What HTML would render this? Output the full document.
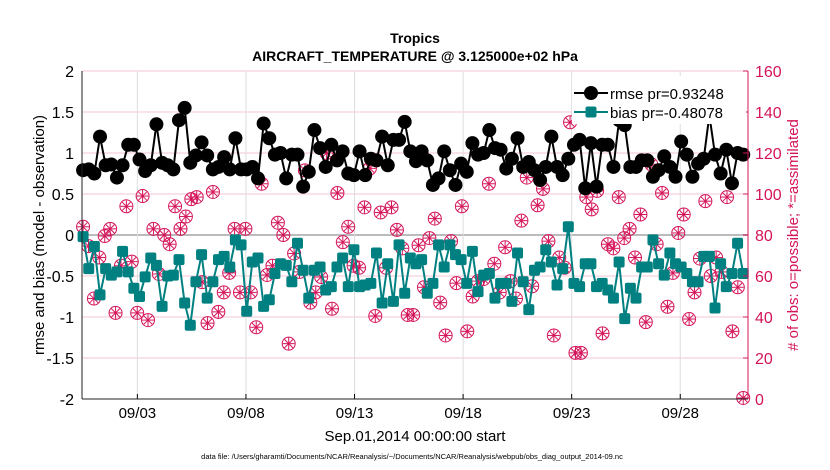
<!DOCTYPE html>
<html><head><meta charset="utf-8"><style>
html,body{margin:0;padding:0;background:#fff;}
svg{display:block;font-family:"Liberation Sans",sans-serif;}
</style></head><body>
<svg id="chart" width="830" height="470" viewBox="0 0 830 470" xmlns="http://www.w3.org/2000/svg">
<rect width="830" height="470" fill="#fff"/>
<text x="415" y="43" text-anchor="middle" font-size="14" font-weight="bold">Tropics</text>
<text x="415" y="61" text-anchor="middle" font-size="14" font-weight="bold">AIRCRAFT_TEMPERATURE @ 3.125000e+02 hPa</text>
<g id="grid"></g><g id="marks"></g><g id="axes"></g>
<text transform="translate(44,235) rotate(-90)" text-anchor="middle" font-size="15">rmse and bias (model - observation)</text>
<text transform="translate(798,235) rotate(-90)" text-anchor="middle" font-size="15" fill="#d4145a"># of obs: o=possible; *=assimilated</text>
<text x="415" y="441" text-anchor="middle" font-size="15">Sep.01,2014 00:00:00 start</text>
<text x="412" y="459" text-anchor="middle" font-size="7.5">data file: /Users/gharamti/Documents/NCAR/Reanalysis/~/Documents/NCAR/Reanalysis/webpub/obs_diag_output_2014-09.nc</text>
<g id="legendwrap"></g>
</svg>
<script>
const xTickDays=[2,7,12,17,22,27];
const xTickLabels=["09/03","09/08","09/13","09/18","09/23","09/28"];
const leftTicks=[-2,-1.5,-1,-0.5,0,0.5,1,1.5,2];
const rightTicks=[0,20,40,60,80,100,120,140,160];
const rmseValues=[.79,.8,.75,1.2,.85,.86,.7,.85,1.1,1.1,.92,.78,.85,1.35,.88,.85,.8,1.4,1.55,.88,.97,1.13,.97,.8,.83,.95,.8,1.18,.8,.8,
.83,.69,1.36,1.18,.98,1.0,.69,.98,.98,.59,.77,1.28,1.06,.83,1.1,.91,1.02,.75,.73,1.02,.73,.93,.91,1.2,.85,1.16,1.16,1.38,1.02,.9,
1.02,.91,.61,.69,1.02,.79,.61,.87,.77,1.12,.98,1.0,1.28,1.06,1.04,.81,.93,1.18,.83,.89,.79,.67,.83,1.2,.83,.73,.93,1.1,1.16,.57,
1.12,.59,1.1,1.1,.83,1.4,1.34,.83,.83,.91,.91,.71,.79,.96,.83,.71,1.14,.98,.71,.87,.93,1.46,.98,.75,1.04,.63,1.0,.98];
const biasValues=[-.02,-.41,-.14,-.73,-.41,-.49,-.45,-.2,-.45,-.65,-.75,-.51,-.28,-.37,-.87,-.5,-.49,-.3,-.83,-1.1,-.57,-.24,-.77,-.57,-.3,-.26,-.39,-.06,-.12,-.93,
-.33,-.28,-.87,-.79,-.47,-.35,-.37,-.57,-.1,-.43,-.77,-.43,-.39,-.67,-.63,-.39,-.28,-.63,-.18,-.63,-.61,-.59,-.22,-.83,-.35,-.81,-.12,-.71,-.28,-.35,
-.3,-.71,-.59,-.12,-.39,-.12,-.24,-.3,-.59,-.2,-.69,-.49,-.47,-.77,-.59,-.59,-.81,-.22,-.57,-.91,-.43,-.39,-.18,-.33,-.61,-.41,.1,-.59,-.63,-.35,
-.35,-.63,-.59,-.67,-.77,-.33,-1.02,-.65,-.77,-.39,-.39,-.06,-.35,-.49,-.22,-.35,-.39,-.47,-.57,-.57,-.26,-.26,-.89,-.35,-.63,-.47,-.1,-.47];
const obsCounts=[84,74.6,49,69,79.5,83,42,65,94,67,42,99,38.5,83,61,80,75.5,94,83,89,97.5,98.5,57,37,101,42.5,52,61.5,83,52,
83,52,35,105,60.5,65,86,80,27,71,62,111.5,47,52,59.5,120,44,100.5,76.5,84,65,64,93.5,112.5,40.5,91,64,93.5,82.5,73.5,41,
41,75,54.5,78.5,88,47,31,77,56.5,94,33,50,57.5,58.5,105,66,52,74,57.5,49,87,108,55,94.5,102.5,77,31,69,64,135,22.5,
22.5,98.5,92.5,101.5,32,75.5,73.5,98.5,78.5,83,69,90,37.5,114.5,75.5,100.5,45,61.5,81,90,39,52,68.5,96.5,60,69,62,98.5,33,54.5,0.5];

const X0=82,X1=748,Y0=71,Y1=399;
const dMin=-0.55,dMax=30.12;
const xs=d=>X0+(d-dMin)/(dMax-dMin)*(X1-X0);
const yL=v=>Y1-(v+2)/4*(Y1-Y0);
const yR=v=>Y1-v/160*(Y1-Y0);
const tStart=-0.5,tEnd=29.9;
const timeOf=(i,n)=>tStart+i*(tEnd-tStart)/(n-1);
const NS="http://www.w3.org/2000/svg";
function mk(tag,attrs,parent){const e=document.createElementNS(NS,tag);for(const k in attrs)e.setAttribute(k,attrs[k]);parent.appendChild(e);return e;}
const grid=document.getElementById('grid'),marks=document.getElementById('marks'),axes=document.getElementById('axes');

leftTicks.forEach(v=>{
  const l=mk('line',{x1:X0,x2:X1,y1:yL(v),y2:yL(v),stroke:v===0?'#bbb':'#f3c6d6','stroke-width':v===0?2:1},grid);
  
  
  const t=mk('text',{x:X0-8,y:yL(v)+6,'text-anchor':'end','font-size':16},axes);
  t.textContent=String(v);
  
  
});
rightTicks.forEach(v=>{
  const t=mk('text',{x:X1+7,y:yR(v)+6,'font-size':16,fill:'#d4145a'},axes);
  t.textContent=String(v);
  
  
  mk('line',{x1:X1-5,x2:X1,y1:yR(v),y2:yR(v),stroke:'#d4145a'},axes);
});
xTickDays.forEach((d,i)=>{
  const l=mk('line',{x1:xs(d),x2:xs(d),y1:Y0,y2:Y1,stroke:'#ddd','stroke-width':1},grid);
  
  
  mk('line',{x1:xs(d),x2:xs(d),y1:Y1,y2:Y1-5,stroke:'#000'},axes);
  const t=mk('text',{x:xs(d),y:Y1+19,'text-anchor':'middle','font-size':15},axes);
  t.textContent=xTickLabels[i];
  
  
});
mk('line',{x1:X0,x2:X0,y1:Y0,y2:Y1,stroke:'#222'},axes);
mk('line',{x1:X0,x2:X1,y1:Y1,y2:Y1,stroke:'#222'},axes);
mk('line',{x1:X1,x2:X1,y1:Y0,y2:Y1,stroke:'#d4145a'},axes);

obsCounts.forEach((c,i)=>{
  const cx=xs(timeOf(i,obsCounts.length)),cy=yR(c);
  const g=mk('g',{},marks);
  
  
  mk('circle',{cx:cx,cy:cy,r:6.5,fill:'none',stroke:'#d4145a','stroke-width':1},g);
  const r=6;
  for(let k=0;k<4;k++){const a=k*Math.PI/4;
    mk('line',{x1:cx-r*Math.cos(a),y1:cy-r*Math.sin(a),x2:cx+r*Math.cos(a),y2:cy+r*Math.sin(a),stroke:'#d4145a','stroke-width':1},g);}
});
function series(vals,color,name,shape){
  const pts=vals.map((v,i)=>[xs(timeOf(i,vals.length)),yL(v)]);
  const p=mk('polyline',{points:pts.map(p=>p.join(',')).join(' '),fill:'none',stroke:color,'stroke-width':2},marks);
  
  
  pts.forEach(([x,y])=>{
    let m;
    if(shape==='circle')m=mk('circle',{cx:x,cy:y,r:7,fill:color},marks);
    else m=mk('rect',{x:x-5.5,y:y-5.5,width:11,height:11,rx:2,fill:color},marks);
    
    
  });
}
series(biasValues,'#008080','bias','square');
series(rmseValues,'#000','rmse','circle');
</script>
<svg width="0" height="0" style="position:absolute"></svg>
<script>
(function(){
const svg=document.getElementById('chart');
const g=document.createElementNS("http://www.w3.org/2000/svg",'g');


g.innerHTML='<rect x="572" y="76" width="174" height="48" fill="#fff"/>'+
'<line x1="574" y1="93" x2="608" y2="93" stroke="#000" stroke-width="2"/>'+
'<circle cx="591" cy="93" r="7" fill="#000"/>'+
'<text x="610" y="99" font-size="15">rmse pr=0.93248</text>'+
'<line x1="574" y1="112" x2="608" y2="112" stroke="#008080" stroke-width="2"/>'+
'<rect x="585.5" y="106.5" width="11" height="11" rx="2" fill="#008080"/>'+
'<text x="610" y="118" font-size="15">bias pr=-0.48078</text>';
svg.appendChild(g);
})();
</script>
</body></html>
